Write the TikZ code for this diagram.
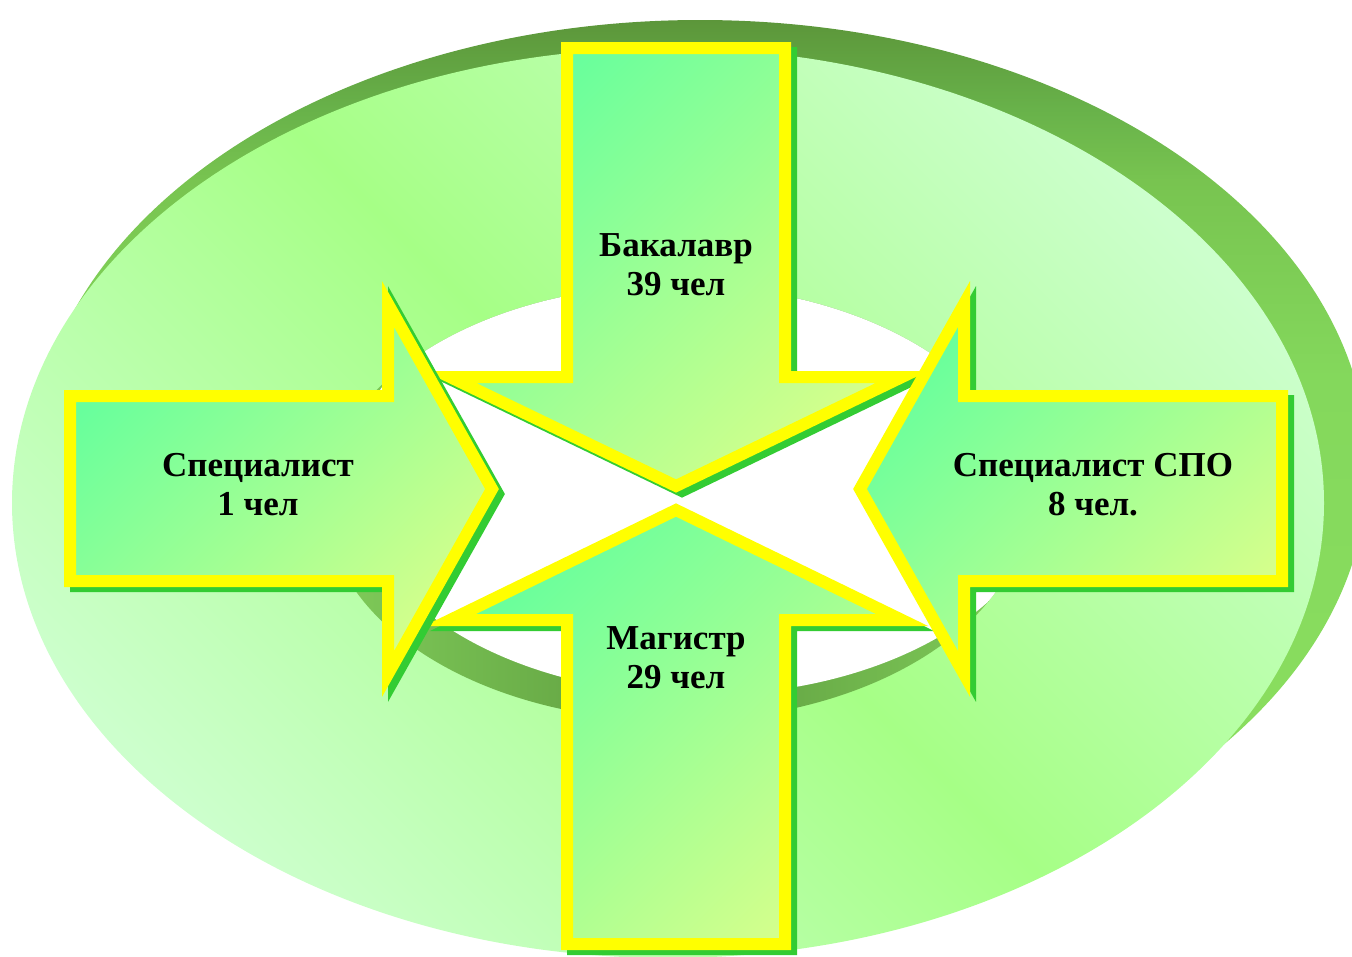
\documentclass[tikz,border=0pt]{standalone}
\usepackage{fontspec}
\setmainfont{Liberation Serif}
\definecolor{pale}{RGB}{204,255,204}
\definecolor{lime}{RGB}{166,255,134}
\definecolor{shlight}{RGB}{140,224,96}
\definecolor{shlighta}{RGB}{132,216,92}
\definecolor{shmid}{RGB}{120,196,80}
\definecolor{shmidb}{RGB}{104,178,74}
\definecolor{shdark}{RGB}{92,150,58}
\definecolor{walllight}{RGB}{128,204,90}
\definecolor{walldark}{RGB}{94,156,62}
\definecolor{mint}{RGB}{104,255,156}
\definecolor{ygreen}{RGB}{212,255,140}
\definecolor{arrowyellow}{RGB}{255,255,0}
\definecolor{arrowshadow}{RGB}{51,204,51}
\pgfdeclareverticalshading{ringshadow}{100bp}{color(0bp)=(shlight); color(25bp)=(shlight); color(55bp)=(shlighta); color(66bp)=(shmid); color(70bp)=(shmidb); color(75bp)=(shdark); color(100bp)=(shdark)}
\tikzset{
  arrowbody/.style={draw=arrowyellow, line width=12pt, line join=miter, top color=mint, bottom color=ygreen, shading angle=45},
  arrowshade/.style={fill=arrowshadow, draw=arrowshadow, line width=12pt, line join=miter, shift={(6,5)}},
  lbl/.style={font=\bfseries\fontsize{35}{39}\selectfont, align=center, text=black, inner sep=0pt}
}
\def\toparrow{(567,48) -- (785,48) -- (785,377) -- (902,377) -- (676,486) -- (450,377) -- (567,377) -- cycle}
\def\botarrow{(567,944) -- (785,944) -- (785,620) -- (902,620) -- (676,510) -- (450,620) -- (567,620) -- cycle}
\def\leftarrowpath{(70,396) -- (388,396) -- (388,304) -- (492,489) -- (388,674) -- (388,581) -- (70,581) -- cycle}
\def\rightarrowpath{(1282,396) -- (964,396) -- (964,304) -- (860,489) -- (964,674) -- (964,581) -- (1282,581) -- cycle}
\begin{document}
\begin{tikzpicture}[x=1pt,y=-1pt]
\useasboundingbox (0,0) rectangle (1352,956);
% ring: back (shadow) face
\shade[shading=ringshadow] (700,467) ellipse [x radius=668pt, y radius=447pt];
% ring: front face
\shade[top color=pale, bottom color=pale, middle color=lime, shading angle=-45] (668,503) ellipse [x radius=656pt, y radius=455pt];
% hole: inner wall
\shade[left color=walllight, right color=walllight, middle color=walldark] (676,503) ellipse [x radius=350pt, y radius=218pt];
% hole: see-through part
\begin{scope}
  \clip (676,503) ellipse [x radius=350pt, y radius=218pt];
  \fill[white] (701,477) ellipse [x radius=350pt, y radius=218pt];
\end{scope}
% arrows
\path[arrowshade] \toparrow;
\path[arrowbody] \toparrow;
\path[arrowshade] \botarrow;
\path[arrowbody] \botarrow;
\path[arrowshade] \leftarrowpath;
\path[arrowbody] \leftarrowpath;
\path[arrowshade] \rightarrowpath;
\path[arrowbody] \rightarrowpath;
% labels
\node[lbl] (bach) at (676,265) {Бакалавр\\39 чел};
\node[lbl] (spec) at (258,485) {Специалист\\1 чел};
\node[lbl] (spo) at (1093,485) {Специалист СПО\\8 чел.};
\node[lbl] (mag) at (676,658) {Магистр\\29 чел};
\end{tikzpicture}
\end{document}
